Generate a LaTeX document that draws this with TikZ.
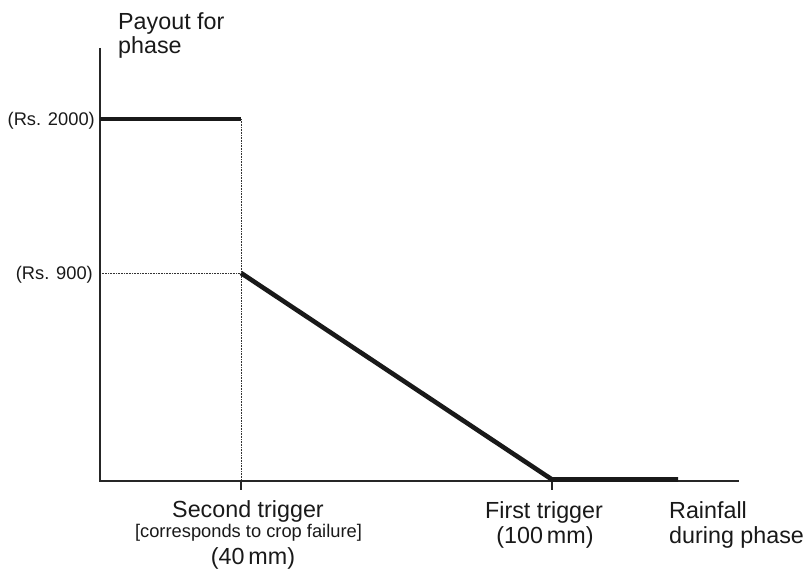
\documentclass[tikz,border=0pt]{standalone}
\usepackage{fontspec}
\setmainfont{Liberation Sans}
\begin{document}
\begin{tikzpicture}[x=1pt,y=-1pt,
  axisline/.style={line width=1.6pt,black!85},
  payline/.style={line width=4.6pt,black!90,line join=miter},
  guide/.style={line width=0.8pt,black!80,dash pattern=on 1pt off 0.6pt},
  tickline/.style={line width=1.2pt,black!85},
  big/.style={inner sep=0pt,font=\fontsize{23.3}{26}\selectfont,text=black!90},
  small/.style={inner sep=0pt,font=\fontsize{18.3}{20}\selectfont,text=black!90}]
\useasboundingbox (0,0) rectangle (804,575);
% key points
\coordinate (Ytop) at (100,48);
\coordinate (O) at (100,481);
\coordinate (Xend) at (739,481);
\coordinate (A) at (100,119);
\coordinate (B) at (241,119);
\coordinate (C) at (241,273);
\coordinate (D) at (100,273);
\coordinate (S) at (241,481);
\coordinate (E) at (552,479.5);
\coordinate (Eax) at (552,481);
\coordinate (F) at (678,479.5);
\coordinate (T1) at (241,490);
\coordinate (T2) at (552,490);
% guides
\draw[guide] (B) -- (S);
\draw[guide] (D) -- (C);
% axes
\draw[axisline] (Ytop) -- (O) -- (Xend);
\draw[tickline] (S) -- (T1);
\draw[tickline] (Eax) -- (T2);
% payout curve
\draw[payline] (A) -- (B);
\draw[payline] (C) -- (E) -- (F);
% labels
\node[big,anchor=base west] (ylab1) at (118,30) {Payout for};
\node[big,anchor=base west] (ylab2) at (118,54) {phase};
\node[small,anchor=base east] (rs2000) at (95,125.5) {(Rs. 2000)};
\node[small,anchor=base east] (rs900) at (93,279.5) {(Rs. 900)};
\node[big,anchor=base] (st1) at (248,517) {Second trigger};
\node[small,anchor=base] (st2) at (248.5,537) {[corresponds to crop failure]};
\node[big,anchor=base] (st3) at (253,564) {(40\,mm)};
\node[big,anchor=base] (ft1) at (544,518) {First trigger};
\node[big,anchor=base] (ft2) at (545,543) {(100\,mm)};
\node[big,anchor=base west] (rf1) at (669,518) {Rainfall};
\node[big,anchor=base west] (rf2) at (669,543) {during phase};
\end{tikzpicture}
\end{document}
